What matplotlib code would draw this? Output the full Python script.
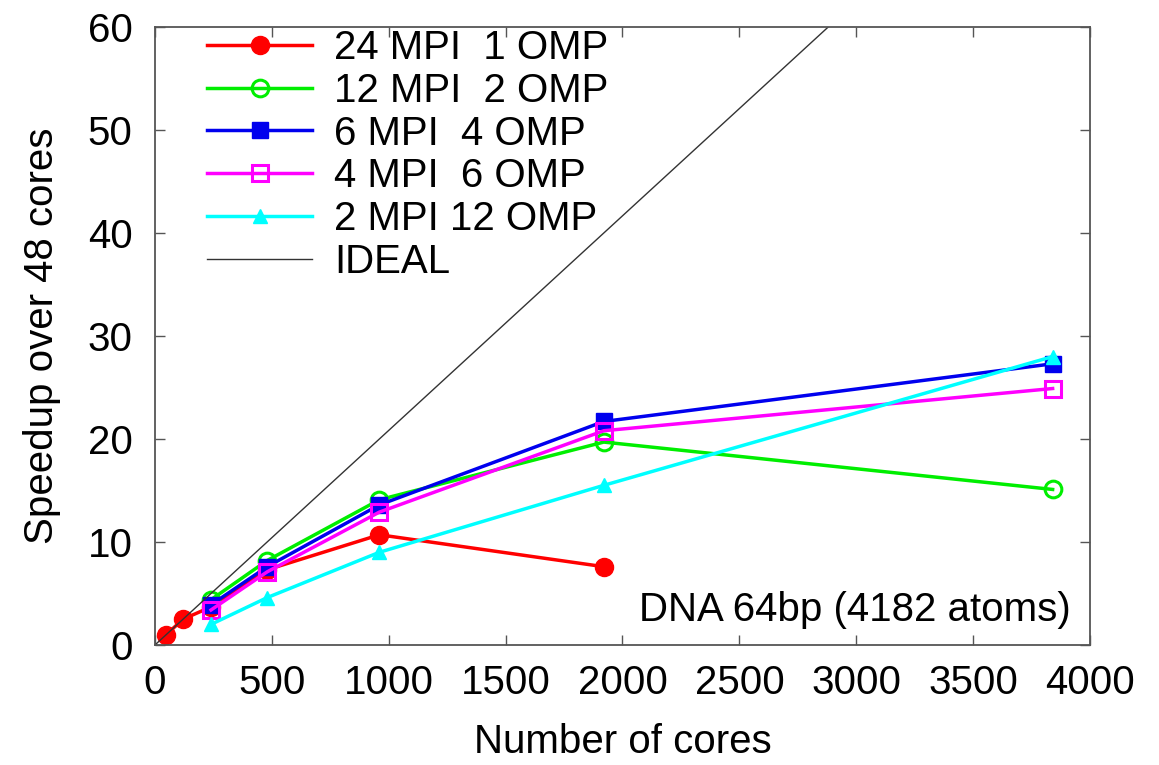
import numpy as np
import matplotlib
matplotlib.use('Agg')
import matplotlib.pyplot as plt

plt.rcParams['font.family'] = ['Liberation Sans', 'DejaVu Sans']

# cores and speedup over 48 cores
cores_red = [48, 120, 240, 480, 960, 1920]
speed_red = [1.0, 2.5, 3.7, 7.3, 10.7, 7.6]

cores = [240, 480, 960, 1920, 3840]
speed_green = [4.4, 8.2, 14.1, 19.7, 15.1]
speed_blue = [3.9, 7.6, 13.6, 21.7, 27.3]
speed_magenta = [3.4, 7.1, 12.9, 20.8, 24.9]
speed_cyan = [2.0, 4.6, 9.0, 15.5, 28.0]

labels = ['24 MPI  1 OMP', '12 MPI  2 OMP', '6 MPI  4 OMP',
          '4 MPI  6 OMP', '2 MPI 12 OMP', 'IDEAL']

ideal_x = [0, 4000]
base_cores = 48

fig = plt.figure(figsize=(11.59, 7.65), dpi=100)
ax = fig.add_axes([0.1337, 0.1569, 0.8068, 0.8078])

lw = 2.5
ax.plot(cores_red, speed_red, '-o', c='#ff0000', lw=lw, ms=13,
        label=labels[0])
ax.plot(cores, speed_green, '-o', c='#00ee00', lw=lw, ms=12, mfc='none',
        mew=2.2, label=labels[1])
ax.plot(cores, speed_blue, '-s', c='#0000ee', lw=lw, ms=11,
        label=labels[2])
ax.plot(cores, speed_magenta, '-s', c='#ff00ff', lw=lw, ms=11, mfc='none',
        mew=2.2, label=labels[3])
ax.plot(cores, speed_cyan, '-^', c='#00ffff', lw=lw, ms=10,
        label=labels[4])
ax.plot(ideal_x, np.array(ideal_x) / base_cores, c='#333333', lw=1.0,
        label=labels[5])

ax.set_xlim(0, 4000)
ax.set_ylim(0, 60)
ax.set_xticks(np.arange(0, 4001, 500))
ax.set_yticks(np.arange(0, 61, 10))
ax.tick_params(direction='in', top=True, right=True, length=7, width=1,
               color='#555555', labelsize=29)
ax.tick_params(axis='x', pad=14)
ax.tick_params(axis='y', pad=16)
for s in ax.spines.values():
    s.set_color('#555555')
    s.set_linewidth(1.3)

ax.set_xlabel('Number of cores', fontsize=29, labelpad=15)
ax.set_ylabel('Speedup over 48 cores', fontsize=29, labelpad=19)

ax.text(0.979, 0.057, 'DNA 64bp (4182 atoms)', transform=ax.transAxes,
        ha='right', va='center', fontsize=29)

ax.legend(loc='upper left', bbox_to_anchor=(0.056, 0.997), frameon=False,
          fontsize=29, numpoints=1, handlelength=2.6, handletextpad=0.55,
          labelspacing=0.12, borderpad=0, borderaxespad=0)

fig.savefig('out.png', dpi=100)
